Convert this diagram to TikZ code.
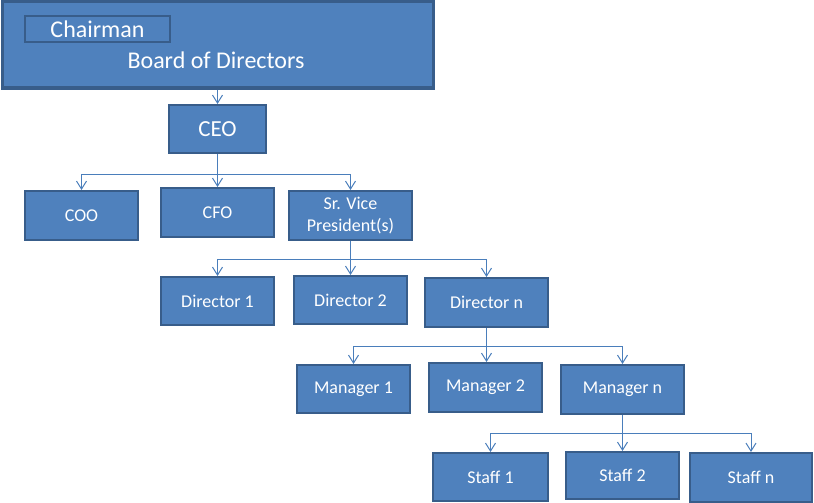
\documentclass[tikz,border=0pt]{standalone}
\usepackage{fontspec}
\setmainfont{Carlito}
\usetikzlibrary{arrows.meta}
\definecolor{boxfill}{HTML}{4F81BD}
\definecolor{boxline}{HTML}{385D8A}
\definecolor{connline}{HTML}{4A7EBB}
\tikzset{
  box/.style={draw=boxline, fill=boxfill, line width=2pt, text=white, inner sep=0pt,
    font=\fontsize{18}{22}\selectfont, align=center},
  conn/.style={draw=connline, line width=1pt},
  arr/.style={conn, -{Straight Barb[length=8pt,width=10pt,line width=1pt]}},
}
\begin{document}
\begin{tikzpicture}[x=1pt,y=-1pt]
\useasboundingbox (0,0) rectangle (814,503);
% top
\node[box, line width=3pt, minimum width=431pt, minimum height=86pt] (board) at (217.5,45) {};
\node[text=white, font=\fontsize{24}{28}\selectfont] (boardtxt) at (216,60) {Board of Directors};
\node[box, minimum width=145pt, minimum height=26pt, line width=2pt, font=\fontsize{24}{28}\selectfont] (chair) at (97.5,29) {Chairman};
\node[box, minimum width=97pt, minimum height=48pt, font=\fontsize{23}{27}\selectfont] (ceo) at (217.5,129) {CEO};
% level 2
\node[box, minimum width=113pt, minimum height=49pt] (coo) at (81.5,215.5) {COO};
\node[box, minimum width=113pt, minimum height=49pt] (cfo) at (217.5,212.5) {CFO};
\node[box, minimum width=123pt, minimum height=49pt] (vp) at (350.5,215.5) {Sr. Vice\\President(s)};
% level 3
\node[box, minimum width=113pt, minimum height=48pt] (d1) at (217.5,301) {Director 1};
\node[box, minimum width=113pt, minimum height=48pt] (d2) at (350.5,300) {Director 2};
\node[box, minimum width=123pt, minimum height=49pt] (dn) at (486.5,302.5) {Director n};
% level 4
\node[box, minimum width=113pt, minimum height=48pt] (m1) at (353.5,389) {Manager 1};
\node[box, minimum width=113pt, minimum height=49pt] (m2) at (485.5,387.5) {Manager 2};
\node[box, minimum width=123pt, minimum height=49pt] (mn) at (622.5,389.5) {Manager n};
% level 5
\node[box, minimum width=115pt, minimum height=48pt] (s1) at (490.5,477) {Staff 1};
\node[box, minimum width=113pt, minimum height=47pt] (s2) at (622.5,475.5) {Staff 2};
\node[box, minimum width=122pt, minimum height=49pt] (sn) at (751,477.5) {Staff n};
% connectors
\draw[arr] (board.south -| ceo.north) -- (ceo.north);
\coordinate (b1) at (217.5,174);
\draw[conn] (ceo.south) -- (b1);
\draw[arr] (b1) -| (coo.north);
\draw[arr] (b1) -- (b1 |- cfo.north);
\draw[arr] (b1) -| (vp.north);
\coordinate (b2) at (350.5,259);
\draw[conn] (vp.south) -- (b2);
\draw[arr] (b2) -| (d1.north);
\draw[arr] (b2) -- (d2.north);
\draw[arr] (b2) -| (dn.north);
\coordinate (b3) at (486.5,346);
\draw[conn] (dn.south) -- (b3);
\draw[arr] (b3) -| (m1.north);
\draw[arr] (b3) -- (b3 |- m2.north);
\draw[arr] (b3) -| (mn.north);
\coordinate (b4) at (622.5,433);
\draw[conn] (mn.south) -- (b4);
\draw[arr] (b4) -| (s1.north);
\draw[arr] (b4) -- (s2.north);
\draw[arr] (b4) -| (sn.north);
\end{tikzpicture}
\end{document}
